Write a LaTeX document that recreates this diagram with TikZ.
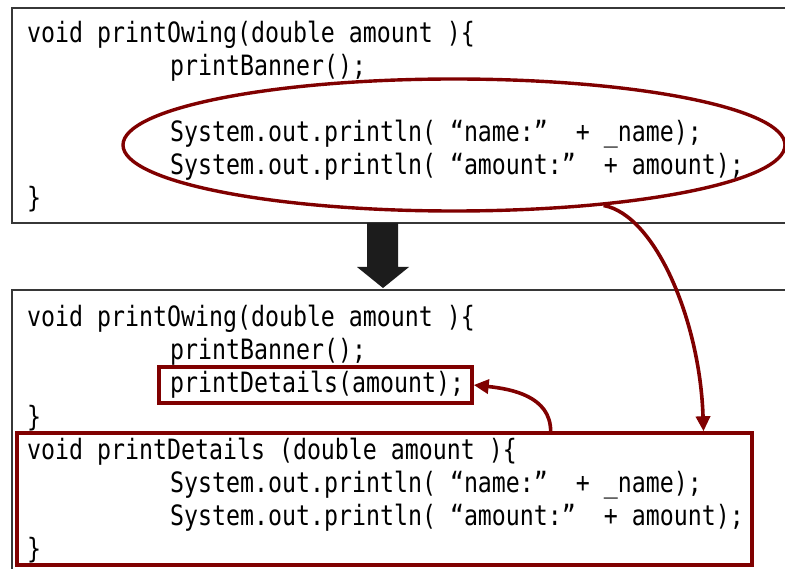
\documentclass[tikz,border=0pt]{standalone}
\usepackage{fontspec}
\usetikzlibrary{arrows.meta,shapes.geometric,calc}
% narrow monospace face for the code listings
\newfontfamily\codefont[FakeStretch=0.83]{DejaVu Sans Mono}
\definecolor{maroonred}{RGB}{128,0,0}
\definecolor{framegray}{RGB}{55,55,55}
\definecolor{blockblack}{RGB}{28,28,28}
\tikzset{
  codeline/.style={font=\codefont\fontsize{28}{33}\selectfont, inner sep=0pt, anchor=base west, text=black},
  codeframe/.style={draw=framegray, line width=1.6pt, inner sep=0pt, anchor=north west},
  redframe/.style={draw=maroonred, line width=3.4pt, inner sep=0pt},
  redarrow/.style={draw=maroonred, line width=3.6pt, -{Triangle[length=15pt,width=14pt]}},
}
\begin{document}
\begin{tikzpicture}[x=1pt,y=-1pt]
\clip (0,0) rectangle (785,569);
\fill[white] (0,0) rectangle (785,569);

% listing before the refactoring
\node[codeframe, minimum width=800pt, minimum height=215pt] (before) at (11,7) {};
\node[codeline] (t1) at (27,43)  {void printOwing(double amount )\{};
\node[codeline] (t2) at (170,76) {printBanner();};
\node[codeline] (t3) at (170,142) {System.out.println( “name:”~~+ \_name);};
\node[codeline] (t4) at (170,175) {System.out.println( “amount:”~~+ amount);};
\node[codeline] (t5) at (27,208) {\}};

% the extracted fragment
\node[ellipse, redframe, minimum width=662pt, minimum height=132pt] (extract) at (454,145) {};

% listing after the refactoring
\node[codeframe, minimum width=800pt, minimum height=300pt] (after) at (11,289) {};
\node[codeline] (a1) at (27,327)  {void printOwing(double amount )\{};
\node[codeline] (a2) at (170,360) {printBanner();};
\node[codeline] (a3) at (170,393) {printDetails(amount);};
\node[codeline] (a4) at (27,426)  {\}};
\node[codeline] (a5) at (27,459)  {void printDetails (double amount )\{};
\node[codeline] (a6) at (170,492) {System.out.println( “name:”~~+ \_name);};
\node[codeline] (a7) at (170,525) {System.out.println( “amount:”~~+ amount);};
\node[codeline] (a8) at (27,558)  {\}};

% highlighted call and new method
\node[redframe, minimum width=313pt, minimum height=36pt] (call) at (315.5,385) {};
\node[redframe, minimum width=735pt, minimum height=132pt] (method) at (384.5,499) {};

% block arrow between the two listings
\fill[blockblack] (367,223) -- (398,223) -- (398,267) -- (409,267) -- (383,288)
  -- (357,267) -- (367,267) -- cycle;

% connectors
\draw[redarrow] (extract.-22)
  .. controls (655,215) and (700,320) ..
  ($(method.north west)!0.932!(method.north east)$);
\draw[redarrow] ($(method.north west)!0.725!(method.north east)$)
  .. controls +(0,-35) and +(38,4) .. (call.east);
\end{tikzpicture}
\end{document}
